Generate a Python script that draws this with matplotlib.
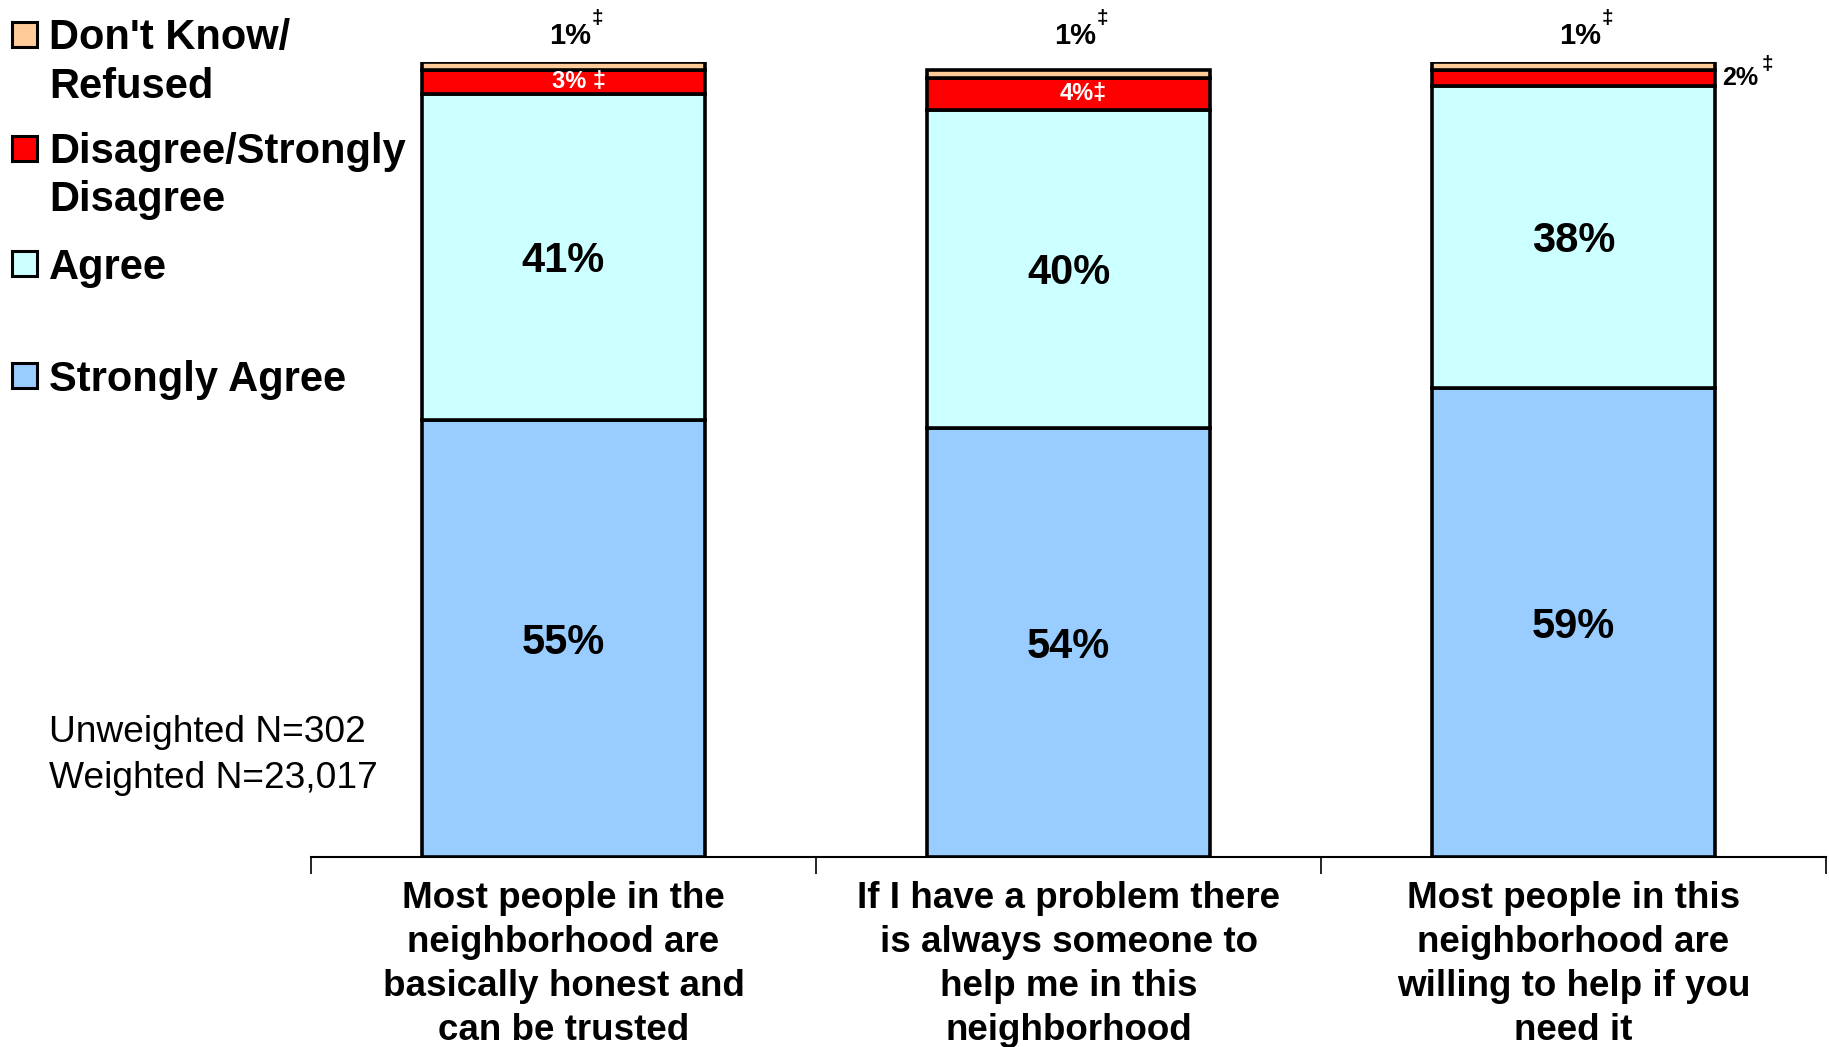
"""Neighborhood trust survey: stacked bar chart."""

import matplotlib

matplotlib.use("Agg")
import matplotlib.pyplot as plt
from matplotlib.patches import Rectangle

plt.rcParams["font.family"] = ["Liberation Sans", "DejaVu Sans"]

W, H = 1829, 1047

categories = [
    "Most people in the\nneighborhood are\nbasically honest and\ncan be trusted",
    "If I have a problem there\nis always someone to\nhelp me in this\nneighborhood",
    "Most people in this\nneighborhood are\nwilling to help if you\nneed it",
]
series_names = ["Strongly Agree", "Agree", "Disagree/Strongly\nDisagree", "Don't Know/\nRefused"]
strongly_agree = [55, 54, 59]
agree = [41, 40, 38]
disagree = [3, 4, 2]
dont_know = [1, 1, 1]
colors = ["#99CCFF", "#CCFFFF", "#FF0000", "#FFCC99"]

fig = plt.figure(figsize=(W / 100, H / 100), dpi=100)


def fx(px):
    return px / W


def fy(py):
    return 1 - py / H


ax = fig.add_axes([fx(311), fy(857), fx(1826) - fx(311), fy(62) - fy(857)])
ax.set_xlim(0, 3)
ax.set_ylim(0, 100)

x = [i + 0.5 for i in range(len(categories))]
bar_w = 0.56
bottom = [0, 0, 0]
for vals, color in zip([strongly_agree, agree, disagree, dont_know], colors):
    ax.bar(x, vals, bar_w, bottom=bottom, color=color, edgecolor="black", linewidth=2.6, zorder=3)
    bottom = [b + v for b, v in zip(bottom, vals)]

# big labels inside the blue/cyan segments
for i in range(3):
    ax.text(x[i], strongly_agree[i] / 2, f"{strongly_agree[i]}%", ha="center", va="center_baseline",
            fontsize=30, fontweight="bold", zorder=4)
    ax.text(x[i], strongly_agree[i] + agree[i] / 2, f"{agree[i]}%", ha="center", va="center_baseline",
            fontsize=30, fontweight="bold", zorder=4)

# disagree labels
sep = [" ", "", ""]
for i in range(2):
    yc = strongly_agree[i] + agree[i] + disagree[i] / 2
    ax.text(x[i] + 0.03, yc, f"{disagree[i]}%{sep[i]}\u2021", ha="center", va="center",
            fontsize=17, fontweight="bold", color="white", zorder=4)
yc = strongly_agree[2] + agree[2] + disagree[2] / 2
ax.annotate(f"{disagree[2]}%", (x[2] + bar_w / 2, yc), xytext=(5, 0), textcoords="offset points",
            ha="left", va="center", fontsize=18, fontweight="bold", annotation_clip=False)
ax.annotate("\u2021", (x[2] + bar_w / 2, yc), xytext=(34, 10), textcoords="offset points",
            ha="left", va="center", fontsize=15, fontweight="bold", annotation_clip=False)

# don't know labels above the bars
for i in range(3):
    ax.annotate(f"{dont_know[i]}%", (x[i], 100), xytext=(5, 19), textcoords="offset points",
                ha="center", va="center", fontsize=21, fontweight="bold", annotation_clip=False)
    ax.annotate("\u2021", (x[i], 100), xytext=(20, 31), textcoords="offset points",
                ha="left", va="center", fontsize=15, fontweight="bold", annotation_clip=False)

# axes styling
for side in ["left", "right", "top"]:
    ax.spines[side].set_visible(False)
ax.spines["bottom"].set_linewidth(1.5)
ax.set_yticks([])
ax.set_xticks(x, categories, fontsize=26.5, fontweight="bold", linespacing=1.34)
ax.tick_params(axis="x", length=0, pad=17)
ax.set_xticks([0, 1, 2, 3], minor=True)
ax.tick_params(axis="x", which="minor", length=12, width=1.2)

# legend drawn by hand (top entry first)
legend_rows = [(3, 34), (2, 148), (1, 263), (0, 375)]
sq = 25
for idx, ycen in legend_rows:
    fig.add_artist(Rectangle((fx(12), fy(ycen + sq / 2)), fx(sq), sq / H, transform=fig.transFigure,
                             facecolor=colors[idx], edgecolor="black", linewidth=2.2))
    for j, line in enumerate(series_names[idx].split("\n")):
        fig.text(fx(49), fy(ycen + 48 * j), line, ha="left", va="center_baseline",
                 fontsize=30, fontweight="bold")

fig.text(fx(49), fy(729), "Unweighted N=302", ha="left", va="center_baseline", fontsize=26.7)
fig.text(fx(49), fy(775), "Weighted N=23,017", ha="left", va="center_baseline", fontsize=26.7)

fig.savefig("out.png", dpi=100)
